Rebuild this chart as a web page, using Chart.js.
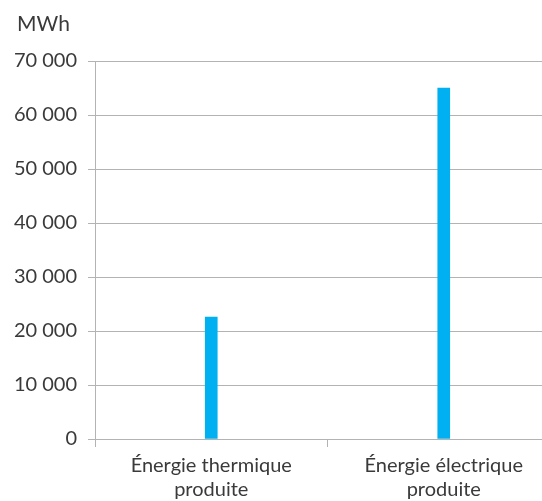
<!DOCTYPE html>
<html>
<head>
<meta charset="utf-8">
<script src="https://cdn.jsdelivr.net/npm/chart.js@4"></script>
<style>
  html, body { margin: 0; padding: 0; background: #fff; overflow: hidden; }
  #wrap { position: relative; width: 562px; height: 501px; }
</style>
</head>
<body>
<div id="wrap"><canvas id="c" width="562" height="501"></canvas></div>
<script>
// Production annuelle (MWh)
const categories = [["Énergie thermique", "produite"], ["Énergie électrique", "produite"]];
const production = [22600, 65000];
const unitLabel = "MWh";
const yMax = 70000;
const yStep = 10000;

const textColor = "#3a3a3a";
const gridColor = "#b3b3b3";
const family = "Lato, 'Open Sans', sans-serif";
const tickFont = { family: family, size: 20 };
const catFont = { family: family, size: 20, lineHeight: 1.2 };

// Space-separated thousands, e.g. 70 000
const fmt = v => String(v).replace(/\B(?=(\d{3})+(?!\d))/g, " ");

const unitTitle = {
  id: "unitTitle",
  afterDraw(chart) {
    const ctx = chart.ctx;
    ctx.save();
    ctx.fillStyle = textColor;
    ctx.font = "21px " + family;
    ctx.textBaseline = "middle";
    ctx.textAlign = "left";
    ctx.fillText(unitLabel, 17, 24);
    ctx.restore();
  }
};

new Chart(document.getElementById("c"), {
  type: "bar",
  data: {
    labels: categories,
    datasets: [{
      data: production,
      backgroundColor: "#00B0F0",
      borderWidth: 0,
      barThickness: 12
    }]
  },
  options: {
    responsive: false,
    animation: false,
    devicePixelRatio: 1,
    layout: { padding: { top: 61, left: 0, right: 2, bottom: 0 } },
    plugins: { legend: { display: false }, tooltip: { enabled: false } },
    scales: {
      x: {
        offset: true,
        grid: {
          offset: true,
          drawOnChartArea: false,
          drawTicks: true,
          tickLength: 8,
          color: gridColor
        },
        border: { color: gridColor, width: 1 },
        ticks: { color: textColor, font: catFont, padding: 7, maxRotation: 0, autoSkip: false },
        afterFit(axis) { axis.height = 62; }
      },
      y: {
        min: 0,
        max: yMax,
        grid: { color: gridColor, tickLength: 7, lineWidth: 1 },
        border: { color: gridColor, width: 1 },
        ticks: {
          stepSize: yStep,
          color: textColor,
          font: tickFont,
          padding: 11,
          callback: v => fmt(v)
        },
        afterFit(axis) { axis.width = 95; }
      }
    }
  },
  plugins: [unitTitle]
});
</script>
</body>
</html>
